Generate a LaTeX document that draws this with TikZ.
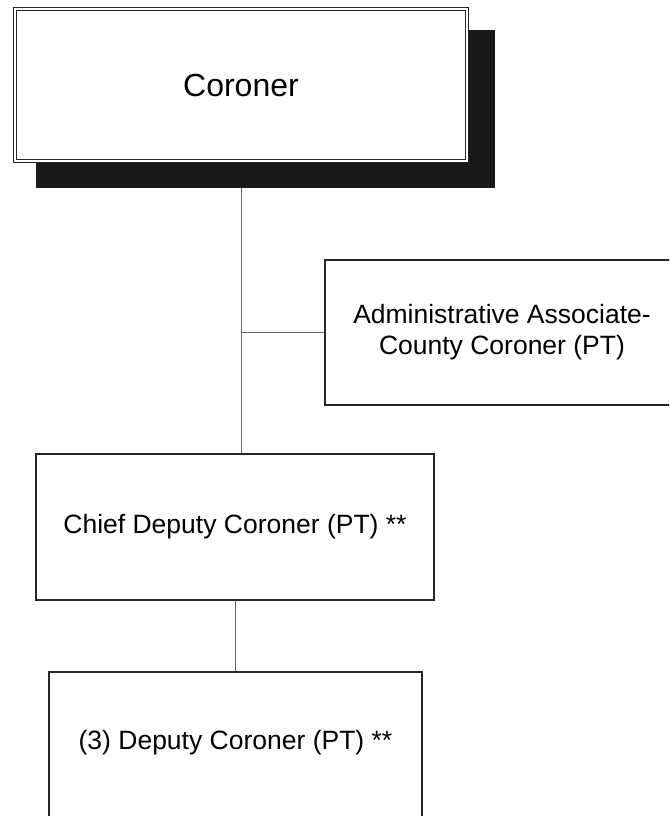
\documentclass[tikz,border=0pt]{standalone}
\usepackage{fontspec}
\setmainfont{Liberation Sans}
\begin{document}
\begin{tikzpicture}[x=1pt,y=-1pt,
  box/.style={draw=black!85, line width=1.4pt, fill=white, inner sep=0pt,
    align=center, font=\fontsize{26.5}{31}\selectfont},
  lbl/.style={inner sep=0pt, align=center, font=\fontsize{26.5}{31}\selectfont},
  link/.style={draw=black!60, line width=0.9pt}]
\useasboundingbox (0,0) rectangle (669,816);
\clip (0,0) rectangle (669,816);
% drop shadow behind the head box
\node[fill=black!90, draw=none, minimum width=459pt, minimum height=158pt, inner sep=0pt]
  (shadow) at (265.5,109) {};
% head box with a double frame
\node[draw=black!85, double=white, double distance=2pt, line width=1.3pt, fill=white,
  minimum width=452pt, minimum height=152pt, inner sep=0pt,
  font=\fontsize{32}{37}\selectfont] (coroner) at (241,85) {Coroner};
% staff boxes
\node[box, minimum width=354pt, minimum height=145pt] (admin) at (502,332.5)
  {Administrative Associate-\\County Coroner (PT)};
\node[box, minimum width=398pt, minimum height=146pt] (chief) at (235,527)
  {Chief Deputy Coroner (PT) **};
% the lowest box runs past the lower edge
\node[box, minimum width=373pt, minimum height=168pt] (deputy) at (235.5,756) {};
\node[lbl] (deputylabel) at (235.5,743) {(3) Deputy Coroner (PT) **};
% reporting lines
\draw[link] (shadow.south -| coroner) -- (coroner |- chief.north);
\draw[link] (coroner |- admin.west) -- (admin.west);
\draw[link] (chief.south) -- (chief.south |- deputy.north);
\end{tikzpicture}
\end{document}
